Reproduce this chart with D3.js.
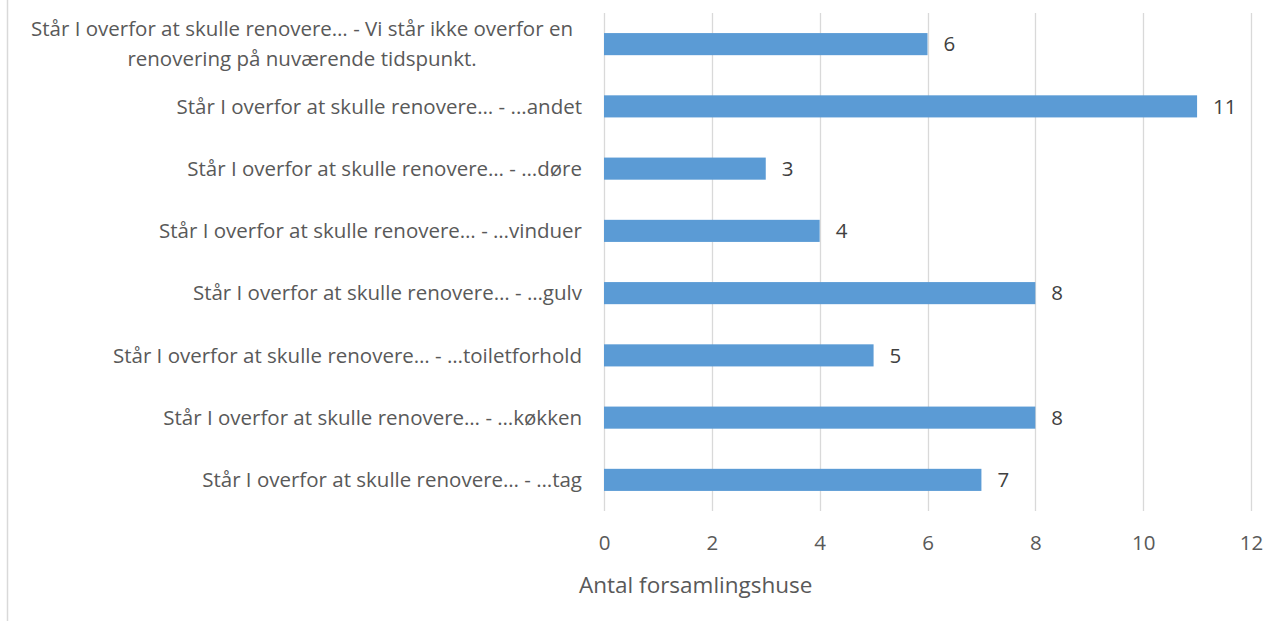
<!DOCTYPE html>
<html>
<head>
<meta charset="utf-8">
<script src="https://cdn.jsdelivr.net/npm/d3@7"></script>
<style>
  html, body { margin: 0; padding: 0; background: #fff; }
  svg { display: block; font-family: 'Open Sans', sans-serif; }
</style>
</head>
<body>
<div id="chart"></div>
<script>
// Kategorier (top → bund) og antal
const categories = [
  ['Står I overfor at skulle renovere… - Vi står ikke overfor en', 'renovering på nuværende tidspunkt.'],
  ['Står I overfor at skulle renovere… - ...andet'],
  ['Står I overfor at skulle renovere… - …døre'],
  ['Står I overfor at skulle renovere… - …vinduer'],
  ['Står I overfor at skulle renovere… - …gulv'],
  ['Står I overfor at skulle renovere… - …toiletforhold'],
  ['Står I overfor at skulle renovere… - …køkken'],
  ['Står I overfor at skulle renovere… - …tag']
];
const values = [6, 11, 3, 4, 8, 5, 8, 7];
const xTicks = [0, 2, 4, 6, 8, 10, 12];
const xTitle = 'Antal forsamlingshuse';

const W = 1277, H = 621;
const m = { top: 13, right: 26, bottom: 110, left: 604 };
const FS = 20.5;

const svg = d3.select('#chart').append('svg').attr('width', W).attr('height', H);

// ramme-linje til venstre
svg.append('line').attr('x1', 7.5).attr('x2', 7.5).attr('y1', 0).attr('y2', H)
  .attr('stroke', '#d9d9d9').attr('stroke-width', 1.5);

const x = d3.scaleLinear().domain([0, 12]).range([m.left, W - m.right]);
const y = d3.scaleBand().domain(d3.range(categories.length))
  .range([m.top, H - m.bottom]).paddingInner(0.645).paddingOuter(0.3225);

// gitterlinjer
svg.append('g').selectAll('line').data(xTicks).join('line')
  .attr('x1', d => Math.round(x(d)) + 0.5).attr('x2', d => Math.round(x(d)) + 0.5)
  .attr('y1', m.top).attr('y2', H - m.bottom)
  .attr('stroke', '#d9d9d9').attr('stroke-width', 1.3);

// søjler
svg.append('g').selectAll('rect').data(values).join('rect')
  .attr('x', x(0)).attr('y', (d, i) => y(i))
  .attr('width', d => x(d) - x(0)).attr('height', y.bandwidth())
  .attr('fill', '#5b9bd5');

// værdi-labels
svg.append('g').selectAll('text').data(values).join('text')
  .attr('x', d => x(d) + 16).attr('y', (d, i) => y(i) + y.bandwidth() / 2)
  .attr('dy', '0.35em').attr('font-size', FS).attr('fill', '#404040')
  .text(d => d);

// kategori-labels
const lab = svg.append('g').selectAll('text').data(categories).join('text')
  .attr('font-size', FS).attr('fill', '#595959');
lab.each(function (lines, i) {
  const t = d3.select(this);
  const cy = y(i) + y.bandwidth() / 2;
  const lh = 30;
  if (lines.length === 1) {
    t.append('tspan').attr('x', 582).attr('y', cy).attr('dy', '0.35em')
      .attr('text-anchor', 'end').text(lines[0]);
  } else {
    const n = lines.length;
    lines.forEach((s, k) => {
      t.append('tspan').attr('x', 302).attr('y', cy + (k - (n - 1) / 2) * lh)
        .attr('dy', '0.35em').attr('text-anchor', 'middle').text(s);
    });
  }
});

// x-akse
const ax = svg.append('g').attr('transform', `translate(0,${H - m.bottom})`)
  .call(d3.axisBottom(x).tickValues(xTicks).tickSize(0).tickPadding(24));
ax.select('.domain').remove();
ax.selectAll('text').attr('font-size', FS).attr('fill', '#595959')
  .attr('font-family', '"Open Sans", sans-serif');

svg.append('text').attr('x', 579).attr('y', 585).attr('dy', '0.35em')
  .attr('font-size', 22.5).attr('fill', '#595959').text(xTitle);
</script>
</body>
</html>
